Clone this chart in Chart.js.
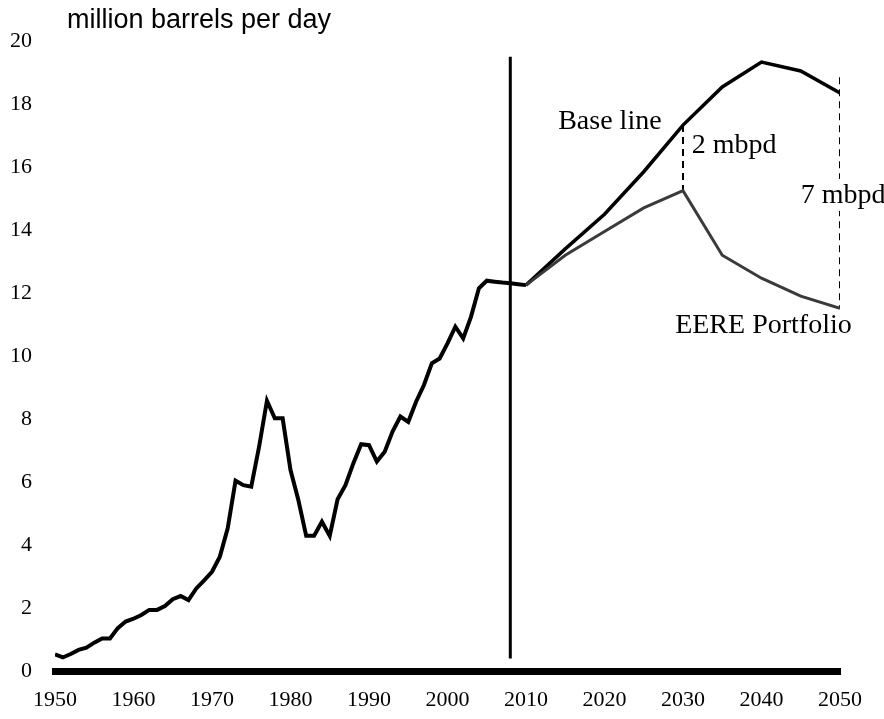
<!DOCTYPE html>
<html>
<head>
<meta charset="utf-8">
<title>million barrels per day</title>
<script src="https://cdn.jsdelivr.net/npm/chart.js@4/dist/chart.umd.min.js"></script>
<style>
  html, body { margin: 0; padding: 0; background: #fff; }
  #wrap { width: 884px; height: 719px; }
</style>
</head>
<body>
<div id="wrap"><canvas id="oilChart" width="884" height="719"></canvas></div>
<script>
// historic consumption, 1950-2010
const historyYears = [
  1950, 1951, 1952, 1953, 1954, 1955, 1956, 1957, 1958, 1959,
  1960, 1961, 1962, 1963, 1964, 1965, 1966, 1967, 1968, 1969,
  1970, 1971, 1972, 1973, 1974, 1975, 1976, 1977, 1978, 1979,
  1980, 1981, 1982, 1983, 1984, 1985, 1986, 1987, 1988, 1989,
  1990, 1991, 1992, 1993, 1994, 1995, 1996, 1997, 1998, 1999,
  2000, 2001, 2002, 2003, 2004, 2005, 2006, 2007, 2008, 2009, 2010
];
const historyValues = [
  0.53, 0.43, 0.54, 0.67, 0.74, 0.90, 1.03, 1.03, 1.36, 1.57,
  1.66, 1.78, 1.94, 1.94, 2.06, 2.28, 2.38, 2.25, 2.62, 2.88,
  3.15, 3.63, 4.53, 6.04, 5.90, 5.85, 7.12, 8.58, 8.02, 8.02,
  6.38, 5.43, 4.29, 4.29, 4.74, 4.29, 5.45, 5.90, 6.59, 7.20,
  7.17, 6.65, 6.96, 7.60, 8.08, 7.91, 8.55, 9.08, 9.77, 9.92,
  10.40, 10.93, 10.56, 11.25, 12.15, 12.39, 12.36, 12.33, 12.31, 12.28, 12.25
];

// projections
const projYears = [2010, 2015, 2020, 2025, 2030, 2035, 2040, 2045, 2050];
const baseValues = [12.25, 13.40, 14.50, 15.85, 17.33, 18.54, 19.33, 19.05, 18.35];
const eereValues = [12.25, 13.20, 13.95, 14.70, 15.25, 13.20, 12.47, 11.90, 11.51];

// "today" divider and savings markers
const dividerYear = 2008;
const dividerRange = [0.4, 19.5];
const gapYears = [2030, 2050];
const gapTop = [17.33, 18.85];
const gapBottom = [15.25, 11.51];

// axis ticks
const xTicks = [1950, 1960, 1970, 1980, 1990, 2000, 2010, 2020, 2030, 2040, 2050];
const yMax = 20;
const yStep = 2;

// text labels: [text, year, value, white box behind]
const notes = [
  ['Base line', 2014.1, 17.2, false],
  ['2 mbpd', 2031.1, 16.44, false],
  ['7 mbpd', 2045.0, 14.86, true],
  ['EERE Portfolio', 2029.0, 10.73, false]
];
const unitLabel = 'million barrels per day';

const serif = "'Liberation Serif', 'Times New Roman', serif";
const sans = "'Liberation Sans', Arial, sans-serif";

const toPts = (xs, ys) => xs.map((x, i) => ({ x: x, y: ys[i] }));

const labelPlugin = {
  id: 'labels',
  afterDatasetsDraw(chart) {
    const ctx = chart.ctx;
    const xs = chart.scales.x;
    const ys = chart.scales.y;
    ctx.save();
    ctx.textBaseline = 'alphabetic';
    ctx.textAlign = 'left';
    ctx.font = '28px ' + serif;
    notes.forEach(([txt, yr, val, boxed]) => {
      const px = xs.getPixelForValue(yr);
      const py = ys.getPixelForValue(val);
      if (boxed) {
        const w = ctx.measureText(txt).width;
        ctx.fillStyle = '#fff';
        ctx.fillRect(px - 2, py - 24, w + 4, 32);
      }
      ctx.fillStyle = '#000';
      ctx.fillText(txt, px, py);
    });
    // unit label above the plot
    ctx.font = '27px ' + sans;
    ctx.fillStyle = '#000';
    ctx.fillText(unitLabel, chart.chartArea.left + 12, chart.chartArea.top - 13);
    ctx.restore();
  }
};

new Chart(document.getElementById('oilChart'), {
  type: 'line',
  data: {
    datasets: [
      {
        label: 'EERE Portfolio',
        data: toPts(projYears, eereValues),
        borderColor: '#3a3a3a',
        borderWidth: 3
      },
      {
        label: 'Base line',
        data: toPts(projYears, baseValues),
        borderColor: '#000',
        borderWidth: 3.5
      },
      {
        label: 'History',
        data: toPts(historyYears, historyValues),
        borderColor: '#000',
        borderWidth: 4
      },
      {
        label: 'divider',
        data: toPts([dividerYear, dividerYear], dividerRange),
        borderColor: '#000',
        borderWidth: 3
      },
      {
        label: 'gap 2030',
        data: toPts([gapYears[0], gapYears[0]], [gapTop[0], gapBottom[0]]),
        borderColor: '#000',
        borderWidth: 2,
        borderDash: [7, 5]
      },
      {
        label: 'gap 2050',
        data: toPts([gapYears[1], gapYears[1]], [gapTop[1], gapBottom[1]]),
        borderColor: '#000',
        borderWidth: 2,
        borderDash: [7, 5]
      }
    ]
  },
  options: {
    responsive: false,
    animation: false,
    devicePixelRatio: 1,
    elements: {
      point: { radius: 0, hoverRadius: 0 },
      line: { tension: 0, fill: false, borderCapStyle: 'butt' }
    },
    layout: { padding: { top: 41, right: 44, bottom: 0, left: 0 } },
    plugins: {
      legend: { display: false },
      tooltip: { enabled: false }
    },
    scales: {
      x: {
        type: 'linear',
        min: xTicks[0],
        max: xTicks[xTicks.length - 1],
        grid: { display: false, drawTicks: false },
        border: { display: true, width: 7, color: '#000' },
        afterBuildTicks: (s) => { s.ticks = xTicks.map(v => ({ value: v })); },
        afterFit: (s) => { s.height = 48; },
        ticks: {
          color: '#000',
          padding: 16,
          maxRotation: 0,
          autoSkip: false,
          font: { family: serif, size: 22 },
          callback: (v) => String(v)
        }
      },
      y: {
        min: 0,
        max: yMax,
        grid: { display: false, drawTicks: false },
        border: { display: false },
        afterFit: (s) => { s.width = 55; },
        ticks: {
          stepSize: yStep,
          color: '#000',
          padding: 23,
          font: { family: serif, size: 22 },
          callback: (v) => String(v)
        }
      }
    }
  },
  plugins: [labelPlugin]
});
</script>
</body>
</html>
